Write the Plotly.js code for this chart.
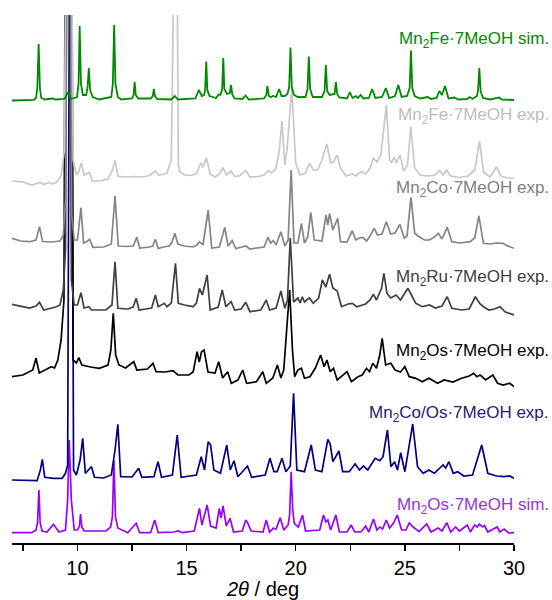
<!DOCTYPE html>
<html>
<head>
<meta charset="utf-8">
<script src="https://cdn.plot.ly/plotly-3.0.1.min.js"></script>
<style>
  html, body { margin: 0; padding: 0; background: #fff; }
  #chart { width: 552px; height: 600px; }
</style>
</head>
<body>
<div id="chart"></div>
<script>
// Powder diffraction patterns, 2θ in degrees vs. intensity (arbitrary units,
// each pattern measured from its own baseline). Values above ~400 run off the
// top of the frame.

const sampleNames = [
  'Mn<sub>2</sub>Fe·7MeOH sim.',
  'Mn<sub>2</sub>Fe·7MeOH exp.',
  'Mn<sub>2</sub>Co·7MeOH exp.',
  'Mn<sub>2</sub>Ru·7MeOH exp.',
  'Mn<sub>2</sub>Os·7MeOH exp.',
  'Mn<sub>2</sub>Co/Os·7MeOH exp.',
  'Mn<sub>2</sub>Os·7MeOH sim.'
];

// vertical stacking offset of each pattern
const offsets = [443, 363, 298, 233, 163, 63, 10];

const fe_sim = [[7.0,-0.5],[8.0,0.2],[8.1,2],[8.16,12],[8.22,56],[8.28,12],[8.34,2],[8.5,0.5],[8.86,1.5],[9.0,0.5],[9.4,1],[9.58,8],[9.7,1],[9.98,3],[10.05,16],[10.1,74],[10.16,16],[10.25,5],[10.4,5],[10.46,12],[10.52,32],[10.58,10],[10.7,3],[11.0,0.5],[11.55,3],[11.62,16],[11.68,75],[11.74,16],[11.85,3],[12.0,0.5],[12.5,1.5],[12.57,5],[12.62,18],[12.67,5],[12.78,1.5],[13.35,1.5],[13.45,4],[13.5,11],[13.55,4],[13.65,1],[14.3,0.5],[14.46,4],[14.6,0.5],[15.4,1.5],[15.56,10],[15.7,4],[15.8,5],[15.85,10],[15.9,38.5],[15.95,10],[16.05,4],[16.35,2],[16.47,5.5],[16.55,5],[16.63,11],[16.68,42],[16.73,11],[16.85,6],[16.98,7],[17.03,15],[17.1,5],[17.2,1.5],[17.55,1],[17.7,4.5],[17.85,0.5],[18.55,1.5],[18.65,5],[18.7,14],[18.77,4],[18.85,3],[18.96,4],[19.1,3],[19.24,11],[19.35,4],[19.5,4],[19.62,6],[19.7,13],[19.76,52.5],[19.82,13],[19.92,5],[20.1,3],[20.45,3],[20.54,11],[20.6,43.5],[20.66,11],[20.78,3],[21.2,3],[21.32,9],[21.38,35],[21.44,9],[21.55,5],[21.78,6],[21.84,18],[21.9,6],[22.0,2.5],[22.35,1.5],[22.48,8],[22.6,2],[22.75,4],[22.85,2],[22.97,5],[23.1,1.5],[23.35,2],[23.5,11],[23.65,2],[23.95,3],[24.13,12],[24.28,2],[24.55,4],[24.7,15],[24.85,3],[25.1,4],[25.22,12],[25.28,49.5],[25.34,12],[25.45,4],[25.7,1.5],[26.05,3],[26.2,1],[26.45,2],[26.58,9],[26.7,5],[26.84,14],[27.0,1.5],[27.27,2.5],[27.45,0.5],[27.85,1],[27.97,3],[28.1,1],[28.3,4],[28.35,9],[28.41,32],[28.47,9],[28.58,2],[28.9,0.5],[29.32,2.5],[29.45,0.5],[30.0,0]];

const fe_exp = [[7.0,-1],[7.5,-2],[7.9,-5],[8.1,-4],[8.3,-2.5],[8.45,-4.5],[8.7,-2.5],[8.85,-4],[9.05,-2],[9.25,4],[9.4,30],[9.52,400],[9.68,400],[9.8,20],[9.95,5],[10.05,8],[10.18,17],[10.3,5],[10.43,6],[10.55,7.5],[10.68,-1],[11.0,-1],[11.4,1],[11.6,10],[11.72,19.3],[11.85,4],[12.1,3],[12.6,3.5],[13.0,3],[13.3,4.5],[13.57,9],[13.72,5],[13.9,5.5],[14.1,7],[14.3,20],[14.42,400],[14.52,400],[14.62,15],[14.7,8.3],[14.9,5],[15.2,4.5],[15.45,6.5],[15.64,17],[15.75,13],[15.91,22.3],[16.08,6],[16.3,3],[16.5,6],[16.67,12.3],[16.82,5],[17.04,9],[17.2,3.5],[17.45,4.5],[17.71,9.5],[17.9,3],[18.3,3.5],[18.55,5],[18.73,9],[18.9,7.5],[19.1,12],[19.25,30],[19.37,59],[19.5,15],[19.6,30],[19.82,92],[20.0,17],[20.2,5],[20.45,7],[20.63,17],[20.8,10],[21.0,10],[21.2,20],[21.42,36],[21.6,17],[21.72,18],[21.9,25],[22.05,12],[22.3,4],[22.6,6],[22.75,4],[23.0,8.5],[23.2,6],[23.4,12],[23.56,22],[23.72,18],[23.9,25],[24.15,75],[24.3,20],[24.4,17],[24.5,23],[24.62,17],[24.77,25],[24.95,9],[25.12,15],[25.27,53.3],[25.45,12],[25.7,5],[26.0,4],[26.35,4.5],[26.6,9.5],[26.75,5],[26.9,10],[27.1,4],[27.5,2.5],[27.9,4],[28.2,10],[28.42,39],[28.6,8],[28.9,3],[29.2,13.3],[29.4,4],[29.7,2],[30.0,2]];

const co_exp = [[7.0,6.7],[7.4,4],[7.8,3.3],[8.1,5],[8.26,18.3],[8.4,3.5],[8.8,3],[9.2,4],[9.35,10],[9.45,45],[9.54,400],[9.66,400],[9.74,30],[9.85,5],[10.0,5],[10.16,37.3],[10.28,2],[10.4,3],[10.56,5.7],[10.7,-2.3],[11.2,-2],[11.55,1],[11.72,49],[11.87,-1],[12.3,-1.5],[12.55,-1],[12.72,7.7],[12.85,-3],[13.3,-2],[13.45,-1],[13.57,5.7],[13.7,-3.5],[13.95,-2],[14.2,-1],[14.33,3],[14.46,11.7],[14.6,1],[14.9,-1],[15.3,-2],[15.47,0],[15.59,3.3],[15.75,0],[15.99,35],[16.15,-3],[16.5,-2],[16.75,17.7],[16.9,-1],[17.09,4.3],[17.25,-3.5],[17.71,-1],[17.9,-4],[18.3,-3],[18.55,-2],[18.73,7.7],[18.85,2],[18.97,4.5],[19.1,0],[19.32,13.3],[19.5,-1],[19.65,5],[19.79,75],[19.92,2],[20.1,2],[20.26,21.7],[20.4,2],[20.55,8],[20.69,32.7],[20.85,5],[21.2,4],[21.39,30],[21.47,20],[21.55,31.7],[21.7,15],[21.92,26.7],[22.05,3.3],[22.35,3],[22.59,14.3],[22.75,5],[22.9,7],[23.07,7.5],[23.25,4],[23.4,9],[23.59,16.7],[23.75,10],[23.95,11],[24.15,23.3],[24.35,11],[24.55,12],[24.77,20.7],[24.97,7],[25.1,9],[25.28,47.7],[25.45,12],[25.6,9],[25.9,5],[26.13,5],[26.35,8],[26.53,11.7],[26.7,6],[26.94,17.7],[27.15,3.3],[27.5,2],[27.99,3.3],[28.2,7],[28.39,29],[28.6,1.7],[28.9,1],[29.2,2],[29.5,1.7],[29.7,-1],[30.0,-3.3]];

const ru_exp = [[7.0,5.7],[7.4,4],[7.8,2],[8.1,4],[8.26,7.7],[8.45,0],[8.8,1.7],[9.0,3],[9.2,5],[9.35,20],[9.45,60],[9.52,400],[9.64,400],[9.72,30],[9.85,5],[10.0,5],[10.16,17.3],[10.3,2],[10.52,3.3],[10.65,0],[11.3,0],[11.58,5],[11.72,48.3],[11.85,1.7],[12.3,1],[12.55,3],[12.69,11.7],[12.82,0],[13.4,2],[13.57,15],[13.7,3.3],[13.85,5],[13.98,6.7],[14.1,3.3],[14.3,7],[14.49,46.7],[14.62,6.7],[14.9,5],[15.3,3.3],[15.45,7],[15.59,21.7],[15.72,15],[15.94,35],[16.08,0],[16.45,3],[16.63,20],[16.8,3.3],[17.04,8.3],[17.2,0],[17.5,1],[17.71,7.7],[17.9,-1.7],[18.4,0],[18.65,10],[18.8,0],[19.1,2],[19.32,19],[19.5,1.7],[19.62,10],[19.75,72],[19.9,8],[20.1,12],[20.2,7],[20.3,13.3],[20.4,8],[20.5,10],[20.63,12],[20.8,6.7],[21.05,12],[21.22,30],[21.38,23],[21.55,35.7],[21.7,22],[21.9,19],[22.1,3.3],[22.4,6],[22.59,6.7],[22.8,3.3],[23.0,5],[23.2,6],[23.4,10],[23.56,15.7],[23.7,10],[23.93,21.7],[24.04,36.7],[24.18,16.7],[24.35,12],[24.6,15],[24.8,10],[25.14,21.7],[25.3,15],[25.5,6.7],[25.8,3.3],[26.13,5],[26.4,2],[26.7,4],[26.94,13.3],[27.15,1.7],[27.6,0],[27.95,1],[28.23,13.3],[28.42,6.7],[28.6,3.3],[28.85,0],[29.1,1],[29.36,3.3],[29.6,-2],[30.0,-5]];

const os_exp = [[7.0,3.3],[7.5,5],[7.95,10],[8.1,21.7],[8.25,7],[8.55,10],[8.8,13.3],[8.95,12],[9.1,20],[9.25,40],[9.38,80],[9.43,400],[9.75,400],[9.8,20],[9.95,17],[10.06,22.3],[10.2,15],[10.6,13],[11.0,11.7],[11.4,15],[11.53,30],[11.64,66.7],[11.75,25],[11.9,15],[12.2,12],[12.58,18.3],[12.72,10],[13.2,11],[13.46,16.7],[13.6,8.3],[14.0,8],[14.38,9.3],[14.6,5],[15.1,5],[15.3,8],[15.48,28.3],[15.58,18],[15.68,28],[15.8,30],[15.98,8],[16.3,7],[16.47,18.3],[16.65,2],[16.88,8.3],[17.05,-3.3],[17.35,0],[17.57,10],[17.75,-3.3],[18.2,-1.7],[18.49,8.3],[18.65,-3.3],[18.95,2],[19.16,15],[19.32,2],[19.45,10],[19.55,40],[19.72,90],[19.85,30],[19.95,3.3],[20.1,10],[20.26,11.7],[20.4,1.7],[20.65,3.3],[20.9,12],[21.14,25],[21.3,13.3],[21.43,20],[21.58,8.3],[21.73,11.7],[21.9,0],[22.1,3.3],[22.35,8.3],[22.55,-1.7],[22.85,3.3],[23.05,5],[23.24,11.7],[23.38,8.3],[23.53,16.7],[23.7,11.7],[23.85,25],[23.96,41.7],[24.12,15],[24.36,16.7],[24.55,10],[24.8,8],[25.0,13.3],[25.2,3.3],[25.5,1.7],[25.8,-1.7],[26.1,1.7],[26.5,-3.3],[26.8,0],[27.2,-2],[27.6,1.7],[27.95,4],[28.15,6.7],[28.3,3.3],[28.45,5],[28.7,0],[29.03,5],[29.25,-3.3],[29.5,-5],[29.8,-3.3],[30.0,-6.7]];

const coos_exp = [[7.0,0],[7.6,-0.7],[8.15,-0.7],[8.3,10],[8.39,20.7],[8.5,2.7],[8.9,1.7],[9.3,1.7],[9.45,6.7],[9.55,15],[9.63,500],[9.74,500],[9.82,10],[9.95,5],[10.12,20],[10.24,41.7],[10.36,6.7],[10.5,10],[10.64,13.3],[10.78,2.7],[11.2,2],[11.55,5],[11.72,30],[11.85,55.7],[11.98,3.3],[12.5,3],[12.8,11.7],[12.95,2.7],[13.5,3.3],[13.69,18.3],[13.85,2.7],[14.35,5],[14.57,45],[14.75,2.7],[15.45,5],[15.67,23.3],[15.82,10],[15.99,38.3],[16.1,35],[16.25,10],[16.55,6.7],[16.84,35],[17.0,10],[17.17,19.3],[17.35,3.3],[17.79,14],[17.98,2.7],[18.6,5],[18.82,21.7],[19.0,8.3],[19.15,8.3],[19.37,21.7],[19.55,8.3],[19.75,14],[19.9,86.7],[20.05,10],[20.4,8.3],[20.71,35],[20.9,10],[21.2,8.3],[21.47,40.7],[21.58,36],[21.7,18.3],[21.98,29],[22.15,8.3],[22.45,8.3],[22.72,16],[22.92,10],[23.1,14],[23.3,10],[23.64,21.7],[23.85,19.3],[24.0,23.3],[24.2,50],[24.36,13.3],[24.53,18.3],[24.66,10],[24.81,27.3],[25.0,8.3],[25.36,56],[25.58,13.3],[25.84,6.7],[26.1,10],[26.35,6.7],[26.75,15],[26.87,12],[27.02,18.3],[27.22,6.7],[27.42,8.3],[27.7,4],[28.1,5],[28.52,35],[28.8,6.7],[29.2,4],[29.55,3.3],[29.8,4],[30.0,1.7]];

const os_sim = [[7.0,0.3],[7.9,0.3],[8.1,3],[8.17,10],[8.23,43],[8.29,10],[8.38,2],[8.6,1],[8.9,8.7],[9.15,1],[9.45,3],[9.55,33],[9.62,93],[9.72,33],[9.85,3],[10.0,3],[10.09,7],[10.14,19],[10.2,6],[10.3,2],[11.3,2],[11.52,6],[11.6,16],[11.67,73],[11.74,16],[11.85,5],[12.3,0.3],[12.69,9.7],[12.85,0.3],[13.35,0.3],[13.54,13],[13.7,0.3],[14.4,1],[14.62,2],[14.8,0.3],[15.35,2],[15.59,24.7],[15.7,8],[15.94,28],[16.1,7],[16.35,5],[16.5,24.7],[16.58,15],[16.67,27],[16.82,7],[16.99,14.7],[17.15,1],[17.55,2],[17.71,13],[17.8,10],[17.95,2],[18.5,1],[18.65,13],[18.8,1],[18.97,4.7],[19.1,4],[19.29,15.3],[19.45,3],[19.65,8],[19.72,18],[19.79,61.3],[19.86,24],[19.93,10],[20.0,8],[20.12,6],[20.31,18],[20.45,2],[21.1,3],[21.27,18],[21.38,11],[21.47,13],[21.6,3],[21.84,18],[22.0,1],[22.35,1],[22.54,8],[22.7,1],[23.0,1.3],[23.2,7],[23.35,1],[23.56,14],[23.72,3],[23.85,6],[23.98,4],[24.15,13],[24.3,5],[24.48,10],[24.65,18],[24.85,3],[25.05,3],[25.2,10],[25.38,6],[25.65,1.3],[26.0,9],[26.2,1],[26.52,5],[26.7,2],[26.92,10.3],[27.1,1],[27.32,6],[27.5,2],[27.86,8],[28.0,1],[28.2,8],[28.32,6],[28.42,9],[28.55,6],[28.65,7.5],[28.8,1],[29.23,6],[29.35,1],[29.55,4],[29.75,0],[30.0,0.3]];

const patterns = [fe_sim, fe_exp, co_exp, ru_exp, os_exp, coos_exp, os_sim];

const majorTicks = [10, 15, 20, 25, 30];
const majorLabels = ['10', '15', '20', '25', '30'];
const minorTicks = [7.5, 12.5, 17.5, 22.5, 27.5];

// styling
const colors = ['#008a00', '#c8c8c8', '#858585', '#404040', '#000000', '#000080', '#9a00ff'];
const labelColors = ['#008a00', '#bdbdbd', '#808080', '#404040', '#000000', '#23236e', '#9a33dd'];
const widths = [1.8, 1.7, 1.7, 1.7, 1.7, 1.7, 1.7];
const labelY = [503, 427, 354, 265, 191, 129, 37];

const font = 'Liberation Sans, Arial, Helvetica, sans-serif';

// draw bottom pattern first so upper ones sit on top
const traces = [];
for (let i = patterns.length - 1; i >= 0; i--) {
  traces.push({
    type: 'scatter',
    mode: 'lines',
    x: patterns[i].map(p => p[0]),
    y: patterns[i].map(p => p[1] + offsets[i]),
    line: { color: colors[i], width: widths[i] },
    hoverinfo: 'skip',
    showlegend: false
  });
}

const annotations = sampleNames.map((name, i) => ({
  text: name,
  xref: 'paper', yref: 'y',
  x: 1.074, y: labelY[i],
  xanchor: 'right', yanchor: 'middle',
  showarrow: false,
  font: { family: font, size: 17, color: labelColors[i] }
}));

const layout = {
  width: 552, height: 600,
  margin: { l: 12, r: 38, t: 15, b: 57 },
  paper_bgcolor: '#fff', plot_bgcolor: '#fff',
  showlegend: false,
  xaxis: {
    range: [7, 30],
    showgrid: false, zeroline: false,
    showline: true, linecolor: '#000', linewidth: 1.5,
    ticks: 'outside', ticklen: 6, tickwidth: 1.5, tickcolor: '#000',
    tickvals: majorTicks, ticktext: majorLabels,
    minor: { tickvals: minorTicks, ticks: 'outside', ticklen: 6, tickwidth: 1.5, tickcolor: '#000', showgrid: false },
    tickfont: { family: font, size: 20, color: '#000' },
    title: { text: '<i>2θ</i> / deg', font: { family: font, size: 20, color: '#000' }, standoff: 4 }
  },
  yaxis: { range: [0, 528], visible: false, showgrid: false, zeroline: false },
  annotations: annotations
};

Plotly.newPlot('chart', traces, layout, { staticPlot: true, displayModeBar: false });
</script>
</body>
</html>
